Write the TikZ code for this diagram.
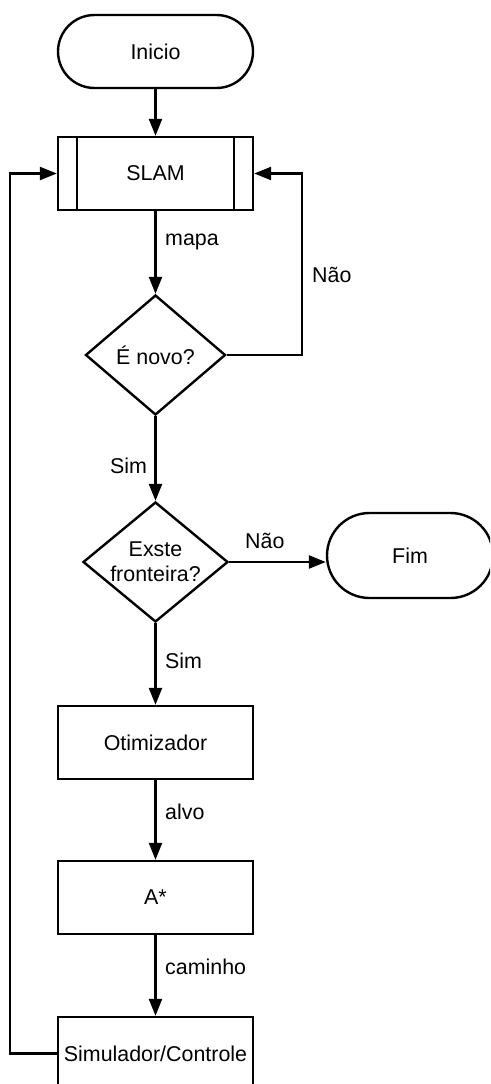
\documentclass[tikz,border=0pt]{standalone}
\usepackage{fontspec}
\setmainfont{Liberation Sans}
\usetikzlibrary{shapes.geometric,shapes.misc,arrows.meta}
\begin{document}
\begin{tikzpicture}[x=1pt,y=-1pt,
  every node/.style={font=\fontsize{21.4}{25}\selectfont},
  base/.style={draw, line width=2.4pt, inner sep=0pt},
  term/.style={base, rounded rectangle, minimum width=195pt, minimum height=73pt},
  procbox/.style={base, rectangle, minimum width=195pt, minimum height=73pt},
  decision/.style={base, diamond, minimum width=140pt, minimum height=120pt},
  flow/.style={line width=2.4pt, -{Triangle[length=17pt,width=13pt]}},
  lbl/.style={inner sep=0pt, anchor=west}
]
\useasboundingbox (0,0) rectangle (490,1084);
\clip (0,0) rectangle (490,1084);
\fill[white] (0,0) rectangle (490,1084);

% nodes
\node[term] (ini) at (155.5,51.5) {Inicio};
\node[procbox] (slam) at (155.5,173.5) {SLAM};
\draw[line width=2.4pt] ([xshift=20pt]slam.north west) -- ([xshift=20pt]slam.south west);
\draw[line width=2.4pt] ([xshift=-20pt]slam.north east) -- ([xshift=-20pt]slam.south east);
\node[decision] (nov) at (155.5,355) {};
\node at (nov.center) {É novo?};
\node[decision, minimum width=145pt] (fro) at (155.5,562) {};
\node[align=center, font=\fontsize{21.4}{25}\selectfont] (frot) at (fro.center) {Exste\\fronteira?};
\node[term, minimum width=166pt, minimum height=85pt] (fim) at (410,555.5) {Fim};
\node[procbox] (oti) at (155.5,742.5) {Otimizador};
\node[procbox] (ast) at (155.5,897.5) {A*};
\node[procbox] (sim) at (155.5,1053.5) {Simulador/Controle};

% turning points of the loops
\coordinate (rtop) at (302,173.5);
\coordinate (rbot) at (302,355);
\coordinate (ltop) at (10,173.5);
\coordinate (lbot) at (10,1053.5);

% connectors
\draw[flow] (ini.south) -- (slam.north);
\draw[flow] (slam.south) -- (nov.north);
\draw[flow] (nov.east) -- (rbot) -- (rtop) -- (slam.east);
\draw[flow] (nov.south) -- (fro.north);
\draw[flow] (fro.east) -- (fro.east -| fim.west);
\draw[flow] (fro.south) -- (oti.north);
\draw[flow] (oti.south) -- (ast.north);
\draw[flow] (ast.south) -- (sim.north);
\draw[flow] (sim.west) -- (lbot) -- (ltop) -- (slam.west);

% connector labels
\node[lbl] (lmapa) at (165,242) {mapa};
\node[lbl] (lnao1) at (312,275) {Não};
\node[lbl] (lsim1) at (110,466) {Sim};
\node[lbl] (lnao2) at (245,541) {Não};
\node[lbl] (lsim2) at (165,661) {Sim};
\node[lbl] (lalvo) at (165,812) {alvo};
\node[lbl] (lcam) at (165,967) {caminho};
\end{tikzpicture}
\end{document}
